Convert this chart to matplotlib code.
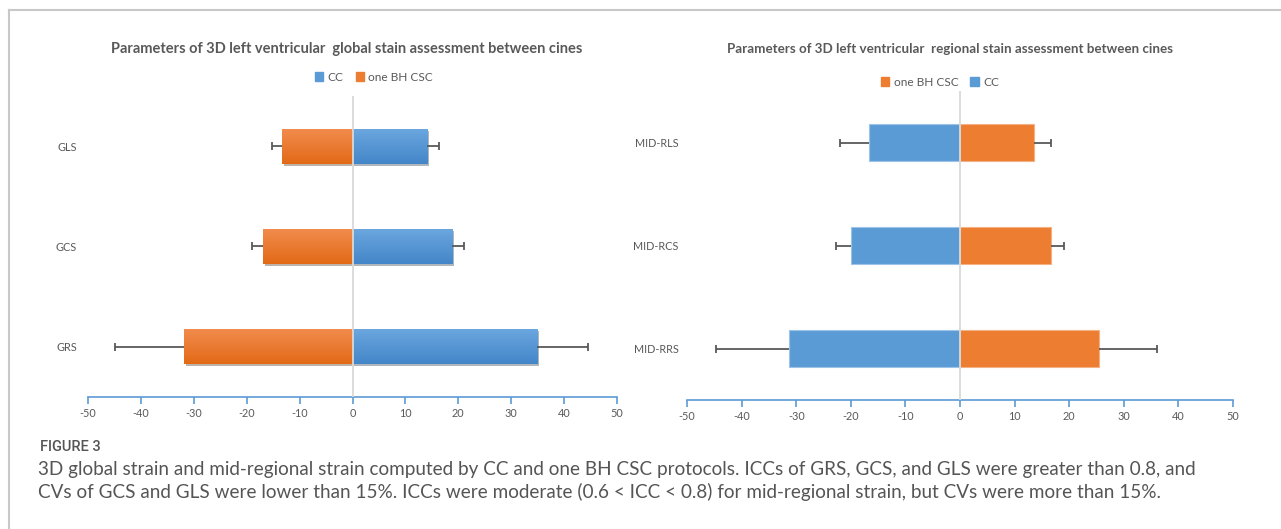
import matplotlib
matplotlib.use('Agg')
import matplotlib.pyplot as plt
import matplotlib.patheffects as pe
from matplotlib.colors import LinearSegmentedColormap
from matplotlib.lines import Line2D
from matplotlib.patches import Patch
import numpy as np

# global strain (top to bottom)
global_labels = ['GLS', 'GCS', 'GRS']
cc_global = [14.0, 18.8, 34.9]
cc_global_sd = [2.4, 2.2, 9.6]
csc_global = [-13.3, -16.9, -31.9]
csc_global_sd = [1.9, 2.1, 13.0]

# mid-regional strain (top to bottom)
regional_labels = ['MID-RLS', 'MID-RCS', 'MID-RRS']
cc_regional = [-16.6, -20.0, -31.3]
cc_regional_sd = [5.3, 2.8, 13.4]
csc_regional = [13.6, 16.6, 25.5]
csc_regional_sd = [3.0, 2.4, 10.5]

x_ticks = list(range(-50, 51, 10))

BLUE = '#5B9BD5'
ORANGE = '#ED7D31'
GREY = '#595959'
FONT = 'Lato'

W, H = 1281, 529
fig = plt.figure(figsize=(W / 100, H / 100), dpi=100)


def px(x0, y0, x1, y1):
    """axes rectangle from pixel corners"""
    return [x0 / W, 1 - y1 / H, (x1 - x0) / W, (y1 - y0) / H]


def gradient_fill(ax, bar, top, bottom):
    x0, y0 = bar.get_xy()
    w, h = bar.get_width(), bar.get_height()
    cmap = LinearSegmentedColormap.from_list('g', [top, bottom])
    grad = np.linspace(0, 1, 64).reshape(-1, 1)
    im = ax.imshow(grad, cmap=cmap, aspect='auto', origin='upper',
                   extent=(x0, x0 + w, y0 + h, y0), zorder=2.1)
    im.set_clip_path(bar)


def error_caps(ax, ypos, values, sds):
    for y, v, s in zip(ypos, values, sds):
        end = v + np.sign(v) * s
        ax.hlines(y, v, end, color=GREY, lw=1.3, zorder=3)
        ax.plot([end], [y], marker='|', ms=6, mew=1.3, color=GREY, zorder=3)


def style_axes(ax, labels):
    ax.set_xlim(-50, 50)
    ax.set_ylim(len(labels) - 0.5, -0.5)
    ax.set_xticks(x_ticks)
    ax.set_xticklabels([str(t) for t in x_ticks], fontsize=7.8, color=GREY, family=FONT)
    ax.set_yticks(range(len(labels)))
    ax.set_yticklabels(labels, fontsize=7.8, color=GREY, family=FONT)
    for side in ['top', 'right', 'left']:
        ax.spines[side].set_visible(False)
    ax.spines['bottom'].set_color(BLUE)
    ax.spines['bottom'].set_linewidth(1.2)
    ax.tick_params(axis='x', colors=BLUE, length=5, width=1.2, pad=3, labelcolor=GREY)
    ax.tick_params(axis='y', length=0, pad=0)
    ax.axvline(0, color='#d9d9d9', lw=1.3, zorder=4)
    ax.set_facecolor('none')


# left panel: global strain
ax1 = fig.add_axes(px(88, 96, 617, 397))
ypos = np.arange(len(global_labels))
shadow = [pe.SimplePatchShadow(offset=(1.5, -1.5), alpha=0.35), pe.Normal()]
cc_bars = ax1.barh(ypos, cc_global, height=0.35, color=BLUE, zorder=2)
csc_bars = ax1.barh(ypos, csc_global, height=0.35, color=ORANGE, zorder=2)
for b in cc_bars:
    b.set_path_effects(shadow)
    gradient_fill(ax1, b, '#6CA7DF', '#4386C9')
for b in csc_bars:
    b.set_path_effects(shadow)
    gradient_fill(ax1, b, '#F28C4E', '#E26A17')
error_caps(ax1, ypos, cc_global, cc_global_sd)
error_caps(ax1, ypos, csc_global, csc_global_sd)
style_axes(ax1, global_labels)
ax1.tick_params(axis='y', pad=8)

# right panel: mid-regional strain
ax2 = fig.add_axes(px(687, 91, 1233, 400))
ypos = np.arange(len(regional_labels))
ax2.barh(ypos, cc_regional, height=0.35, color=BLUE, edgecolor='#9DC3E6', lw=0.8, zorder=2)
ax2.barh(ypos, csc_regional, height=0.35, color=ORANGE, edgecolor='#F4B183', lw=0.8, zorder=2)
error_caps(ax2, ypos, cc_regional, cc_regional_sd)
error_caps(ax2, ypos, csc_regional, csc_regional_sd)
style_axes(ax2, regional_labels)
ax2.tick_params(axis='y', pad=6)

# titles and legends
fig.text(347 / W, 1 - 49 / H,
         'Parameters of 3D left ventricular  global stain assessment between cines',
         ha='center', va='center', fontsize=10.5, fontweight='bold', color=GREY, family=FONT)
fig.text(950 / W, 1 - 49 / H,
         'Parameters of 3D left ventricular  regional stain assessment between cines',
         ha='center', va='center', fontsize=9.6, fontweight='bold', color=GREY, family=FONT)

leg_kw = dict(ncol=2, frameon=False, handlelength=0.7, handleheight=0.7,
              handletextpad=0.35, columnspacing=1.0, loc='center',
              prop={'family': FONT, 'size': 8.6})
lg1 = fig.legend(handles=[Patch(color=BLUE, label='CC'), Patch(color=ORANGE, label='one BH CSC')],
                 bbox_to_anchor=(374 / W, 1 - 77 / H), **leg_kw)
lg2 = fig.legend(handles=[Patch(color=ORANGE, label='one BH CSC'), Patch(color=BLUE, label='CC')],
                 bbox_to_anchor=(940 / W, 1 - 82 / H), **leg_kw)
for lg in (lg1, lg2):
    for t in lg.get_texts():
        t.set_color(GREY)

# frame around the figure panel
fig.add_artist(Line2D([9 / W, 1], [1 - 10 / H, 1 - 10 / H], color='#c8c8c8', lw=1.5))
fig.add_artist(Line2D([9 / W, 9 / W], [0, 1 - 10 / H], color='#c8c8c8', lw=1.5))

# caption
fig.text(40 / W, 1 - 447 / H, 'FIGURE 3', ha='left', va='center', fontsize=10.5,
         color='#555555', family='Roboto', fontweight='medium')
caption = ['3D global strain and mid-regional strain computed by CC and one BH CSC protocols. '
           'ICCs of GRS, GCS, and GLS were greater than 0.8, and',
           'CVs of GCS and GLS were lower than 15%. ICCs were moderate (0.6 < ICC < 0.8) '
           'for mid-regional strain, but CVs were more than 15%.']
fig.text(38 / W, 1 - 469 / H, caption[0], ha='left', va='center', fontsize=13.6,
         color='#555555', family=FONT)
fig.text(38 / W, 1 - 492 / H, caption[1], ha='left', va='center', fontsize=13.6,
         color='#555555', family=FONT)

fig.savefig('out.png', dpi=100)
